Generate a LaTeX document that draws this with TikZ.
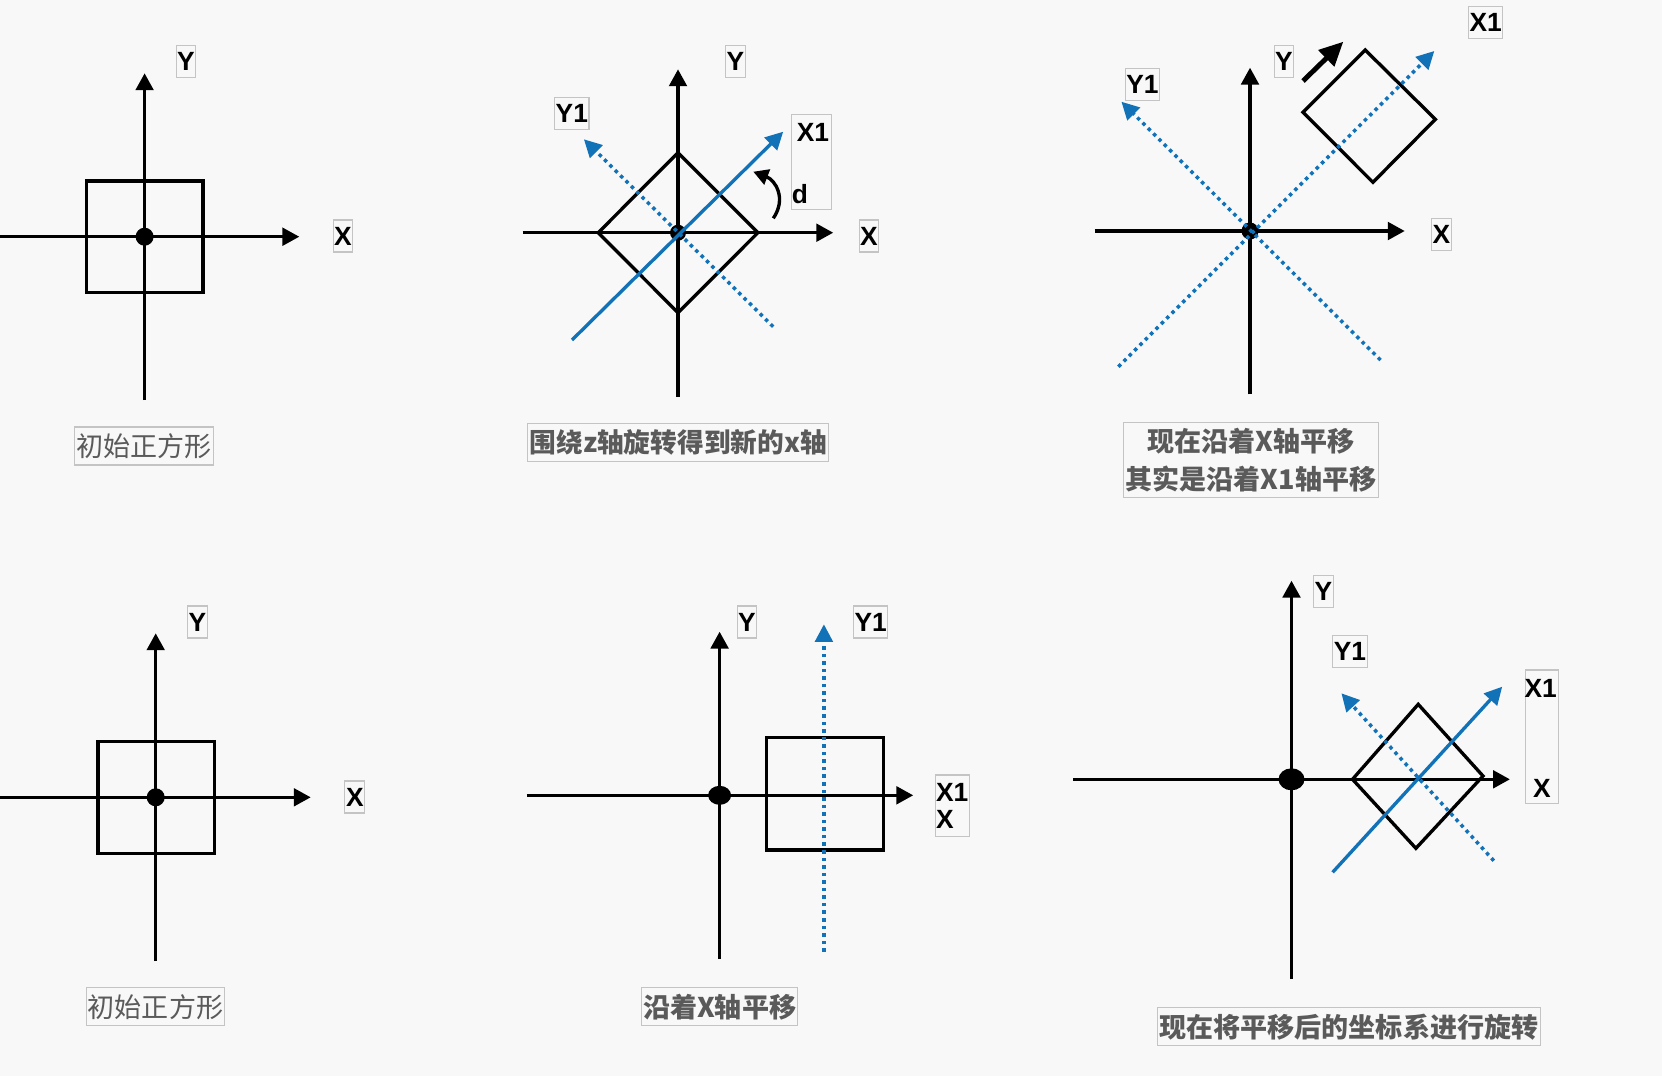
\documentclass[tikz,border=0pt]{standalone}
\usepackage{fontspec}
\setsansfont{Liberation Sans}
\newfontfamily\cjk{Noto Sans CJK SC}
\usetikzlibrary{arrows.meta}
\definecolor{bgc}{HTML}{F8F8F8}
\definecolor{axblue}{HTML}{1272B8}
\definecolor{capgray}{HTML}{5A5A5A}
\definecolor{boxgray}{HTML}{C4C4C4}

\begin{document}
\begin{tikzpicture}[x=0.02cm, y=-0.02cm,
  axisline/.style={line width=1.9pt, -{Triangle[length=9.6pt,width=10pt]}},
  sqline/.style={line width=1.9pt, line join=miter},
  bluesolid/.style={axblue, line width=1.9pt, -{Triangle[length=10pt,width=10pt]}},
  bluedot/.style={axblue, line width=2pt, dash pattern=on 2pt off 2.3pt, -{Triangle[length=10pt,width=10pt]}},
  lbl/.style={draw=boxgray, line width=0.6pt, font=\sffamily\bfseries\fontsize{15}{15.6}\selectfont,
    inner xsep=0.6pt, minimum height=0.64cm},
  lbltxt/.style={inner sep=0pt, font=\sffamily\bfseries\fontsize{15}{15.6}\selectfont},
  lblbox/.style={draw=boxgray, line width=0.6pt, inner sep=0pt},
  capt/.style={draw=boxgray, line width=0.6pt, text=capgray, inner xsep=1pt, minimum height=0.76cm}]
  \newcommand\drawaxes[7]{
    \coordinate (#1o) at (#2,#3);
    \coordinate (#1l) at (#4,#3);
    \coordinate (#1r) at (#5,#3);
    \coordinate (#1t) at (#2,#6);
    \coordinate (#1b) at (#2,#7);
    \draw[axisline] (#1l) -- (#1r);
    \draw[axisline] (#1b) -- (#1t);
  }
  \fill[bgc] (0,0) rectangle (1662,1076);
  \useasboundingbox (0,0) rectangle (1662,1076);

  % panel 1: start square
  \drawaxes{p1}{144.6}{236.7}{0}{299.3}{73.3}{400}
  \draw[sqline] (86.8,181) rectangle (202.9,292.7);
  \fill (p1o) circle[radius=0.18cm];
  \node[lbl] (p1y) at (186,61.5) {Y};
  \node[lbl] (p1x) at (343,236) {X};
  \node[capt, font=\cjk\fontsize{15.4}{18}\selectfont] (p1c) at (144,446) {初始正方形};

  % panel 2: rotate about z
  \drawaxes{p2}{678}{232.7}{522.5}{833.2}{69.3}{396.7}
  \draw[sqline] (598.2,232.7) -- (678,152.7) -- (757.9,232.7) -- (678,312.7) -- cycle;
  \fill (p2o) circle[radius=0.16cm];
  \coordinate (p2xs) at (572,340);
  \coordinate (p2xe) at (783.2,131.7);
  \coordinate (p2ys) at (773.2,326.7);
  \coordinate (p2ye) at (583.9,139.3);
  \draw[bluesolid] (p2xs) -- (p2xe);
  \draw[bluedot] (p2ys) -- (p2ye);
  \coordinate (p2as) at (773.3,218.3);
  \coordinate (p2ae) at (753.3,171.7);
  \draw[line width=1.9pt, -{Triangle[length=8.5pt,width=9pt]}] (p2as) .. controls (787,198) and (775,180) .. (p2ae);
  \node[lbl] (p2y) at (735.4,61.5) {Y};
  \node[lbl] (p2y1) at (571.8,113.8) {Y1};
  \node[lbl] (p2x) at (869,236) {X};
  \node[lblbox, minimum width=0.79cm, minimum height=1.89cm] (p2box) at (811.7,162.2) {};
  \node[lbltxt] (p2x1) at (813,132) {X1};
  \node[lbltxt] (p2d) at (800,194) {d};
  \node[capt, font=\cjk\bfseries\fontsize{15.2}{18}\selectfont] (p2c) at (678.2,442.5) {围绕z轴旋转得到新的x轴};

  % panel 3: move along X = along X1
  \drawaxes{p3}{1250}{231}{1094.5}{1404.7}{67.7}{394.3}
  \fill (p3o) circle[radius=0.17cm];
  \draw[sqline] (1365.2,50) -- (1435.4,119.3) -- (1372.9,182.3) -- (1303,112.3) -- cycle;
  \coordinate (p3xs) at (1118.3,366.7);
  \coordinate (p3xe) at (1434.3,51);
  \coordinate (p3ys) at (1380.5,360);
  \coordinate (p3ye) at (1121.4,101.7);
  \draw[bluedot] (p3xs) -- (p3xe);
  \draw[bluedot] (p3ys) -- (p3ye);
  \coordinate (p3ms) at (1303,81);
  \coordinate (p3me) at (1343.3,41.7);
  \draw[line width=2.8pt, -{Triangle[length=13.6pt,width=12.5pt]}] (p3ms) -- (p3me);
  \node[lbl] (p3y) at (1284,61.5) {Y};
  \node[lbl] (p3y1) at (1142.5,84.5) {Y1};
  \node[lbl] (p3x1) at (1485.7,22.8) {X1};
  \node[lbl] (p3x) at (1441.4,234.5) {X};
  \node[capt, align=center, inner ysep=3.3pt, font=\cjk\bfseries\fontsize{15.4}{21.5}\selectfont] (p3c) at (1251,460)
    {现在沿着X轴平移\\其实是沿着X1轴平移};

  % panel 4: start square again
  \drawaxes{p4}{155.7}{797.3}{0}{310.7}{633.3}{961}
  \draw[sqline] (97.9,741.7) rectangle (214.6,853.3);
  \fill (p4o) circle[radius=0.18cm];
  \node[lbl] (p4y) at (197.5,622) {Y};
  \node[lbl] (p4x) at (354.8,797) {X};
  \node[capt, font=\cjk\fontsize{15.4}{18}\selectfont] (p4c) at (155.5,1006.7) {初始正方形};

  % panel 5: move along X
  \drawaxes{p5}{719.6}{795.3}{526.8}{913.2}{631.7}{959}
  \draw[sqline] (766.4,737.7) rectangle (883.6,850);
  \fill (p5o) ellipse[x radius=0.23cm, y radius=0.19cm];
  \coordinate (p5ys) at (823.9,951.7);
  \coordinate (p5ye) at (823.9,624.3);
  \draw[bluedot] (p5ys) -- (p5ye);
  \node[lbl] (p5y) at (747,622) {Y};
  \node[lbl] (p5y1) at (870.7,622) {Y1};
  \node[lbl, align=left, minimum height=1.23cm] (p5x) at (952.2,805.7) {X1\\X};
  \node[capt, font=\cjk\bfseries\fontsize{15.4}{18}\selectfont] (p5c) at (719.6,1006.7) {沿着X轴平移};

  % panel 6: rotate the moved frame
  \drawaxes{p6}{1291.5}{779.3}{1073.4}{1509.9}{580.7}{979}
  \draw[sqline] (1418.2,704.3) -- (1483,776) -- (1415.9,848.3) -- (1352.5,779.3) -- cycle;
  \fill (p6o) ellipse[x radius=0.26cm, y radius=0.22cm];
  \coordinate (p6xs) at (1332.6,872.3);
  \coordinate (p6xe) at (1502.2,686.7);
  \coordinate (p6ys) at (1493.8,860.7);
  \coordinate (p6ye) at (1341.4,693.3);
  \draw[bluesolid] (p6xs) -- (p6xe);
  \draw[bluedot] (p6ys) -- (p6ye);
  \node[lbl] (p6y) at (1323.4,591.2) {Y};
  \node[lbl] (p6y1) at (1350,651.2) {Y1};
  \node[lblbox, minimum width=0.67cm, minimum height=2.67cm] (p6box) at (1542,736.7) {};
  \node[lbltxt] (p6x1) at (1540.6,688.3) {X1};
  \node[lbltxt] (p6x) at (1541.8,788.3) {X};
  \node[capt, font=\cjk\bfseries\fontsize{15.4}{18}\selectfont] (p6c) at (1348.9,1026.7) {现在将平移后的坐标系进行旋转};
\end{tikzpicture}
\end{document}
